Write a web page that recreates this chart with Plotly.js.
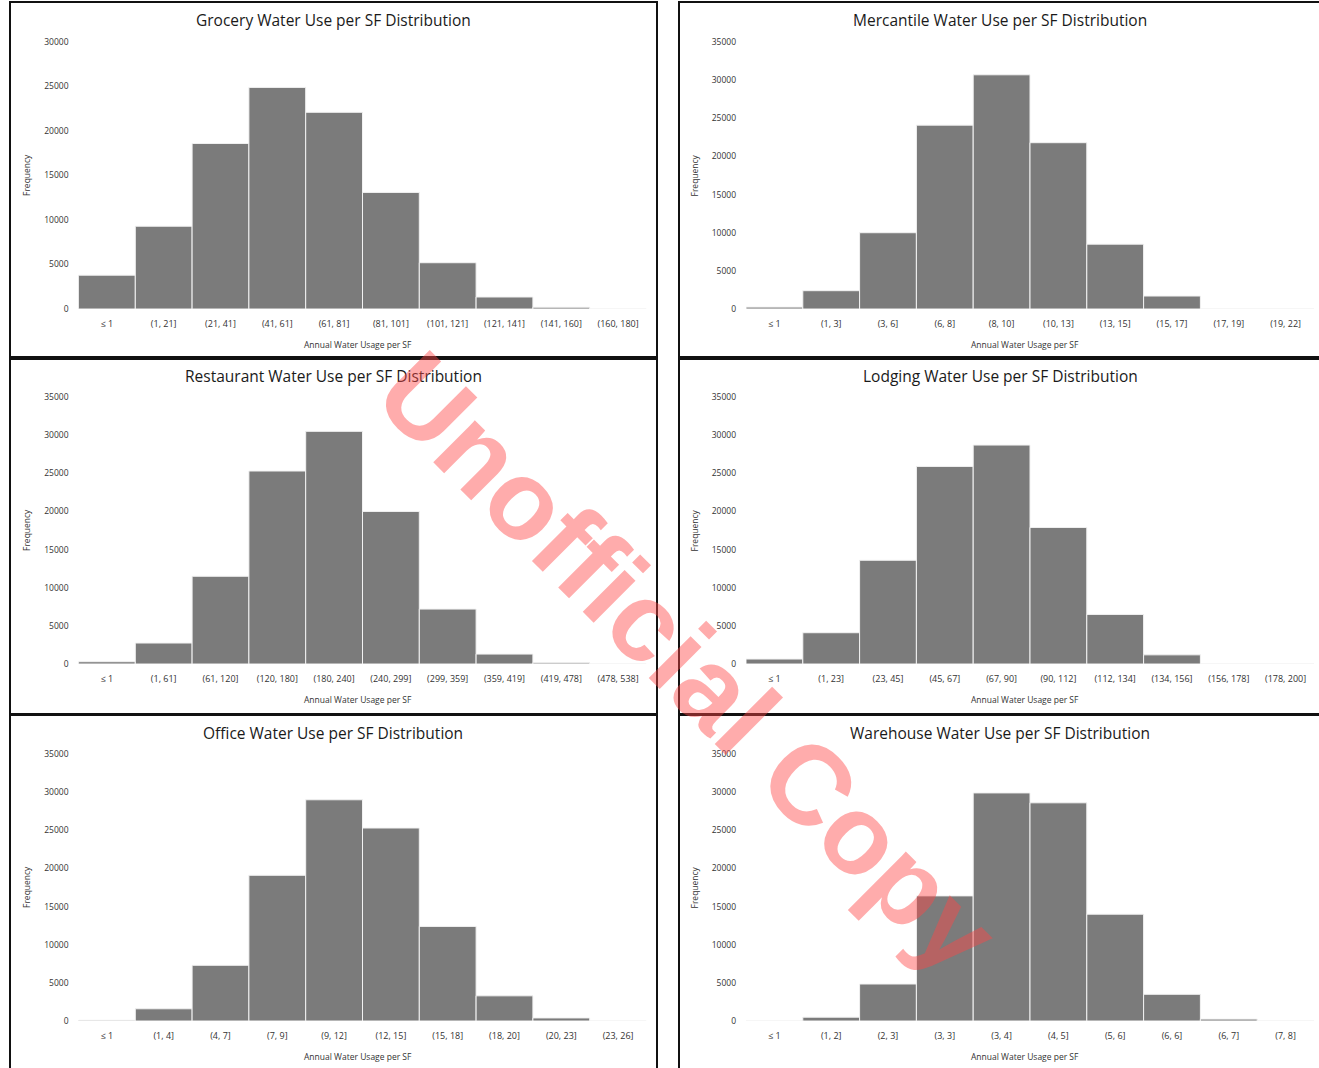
<!DOCTYPE html>
<html>
<head>
<meta charset="utf-8">
<script src="https://cdn.plot.ly/plotly-3.0.1.min.js"></script>
<style>html,body{margin:0;padding:0;background:#fff;}#chart{width:1319px;height:1068px;}</style>
</head>
<body>
<div id="chart"></div>
<script>
// ---- data ----
const groceryBins = ["≤ 1","(1, 21]","(21, 41]","(41, 61]","(61, 81]","(81, 101]","(101, 121]","(121, 141]","(141, 160]","(160, 180]"];
const groceryFreq = [3800, 9300, 18600, 24900, 22100, 13100, 5200, 1350, 200, 0];

const mercantileBins = ["≤ 1","(1, 3]","(3, 6]","(6, 8]","(8, 10]","(10, 13]","(13, 15]","(15, 17]","(17, 19]","(19, 22]"];
const mercantileFreq = [250, 2400, 10000, 24100, 30700, 21800, 8500, 1700, 0, 0];

const restaurantBins = ["≤ 1","(1, 61]","(61, 120]","(120, 180]","(180, 240]","(240, 299]","(299, 359]","(359, 419]","(419, 478]","(478, 538]"];
const restaurantFreq = [300, 2750, 11500, 25300, 30500, 20000, 7200, 1300, 150, 0];

const lodgingBins = ["≤ 1","(1, 23]","(23, 45]","(45, 67]","(67, 90]","(90, 112]","(112, 134]","(134, 156]","(156, 178]","(178, 200]"];
const lodgingFreq = [650, 4100, 13600, 25900, 28700, 17900, 6500, 1200, 0, 0];

const officeBins = ["≤ 1","(1, 4]","(4, 7]","(7, 9]","(9, 12]","(12, 15]","(15, 18]","(18, 20]","(20, 23]","(23, 26]"];
const officeFreq = [100, 1600, 7300, 19100, 29000, 25300, 12400, 3300, 400, 0];

const warehouseBins = ["≤ 1","(1, 2]","(2, 3]","(3, 3]","(3, 4]","(4, 5]","(5, 6]","(6, 6]","(6, 7]","(7, 8]"];
const warehouseFreq = [0, 500, 4850, 16400, 29900, 28600, 14000, 3500, 250, 0];

const panelTitles = ["Grocery Water Use per SF Distribution","Mercantile Water Use per SF Distribution",
  "Restaurant Water Use per SF Distribution","Lodging Water Use per SF Distribution",
  "Office Water Use per SF Distribution","Warehouse Water Use per SF Distribution"];
const yMax = [30000, 35000, 35000, 35000, 35000, 35000];
const xTitle = "Annual Water Usage per SF";
const yTitle = "Frequency";
const watermark = "Unofficial Copy";

// ---- layout geometry ----
const W = 1319, H = 1068;
const bins = [groceryBins, mercantileBins, restaurantBins, lodgingBins, officeBins, warehouseBins];
const freqs = [groceryFreq, mercantileFreq, restaurantFreq, lodgingFreq, officeFreq, warehouseFreq];
const colX = [[78.5, 646.5], [746, 1314]];
const rowY = [[42, 309], [397, 664], [754, 1021]];
const titleY = [20, 376, 733];
const titleX = [333, 1000];
const boxesX = [[10, 657], [679, 1325]];
const boxesY = [[2, 357], [359, 714], [715, 1072]];

const FONT = "'Open Sans', Lato, sans-serif";
const traces = [];
const layout = {
  width: W, height: H, margin: {l:0, r:0, t:0, b:0},
  paper_bgcolor: "#fff", plot_bgcolor: "#fff",
  showlegend: false, bargap: 0,
  font: {family: FONT, color: "#222"},
  annotations: [], shapes: []
};

for (let i = 0; i < 6; i++) {
  const c = i % 2, r = Math.floor(i / 2);
  const sfx = i === 0 ? "" : String(i + 1);
  traces.push({
    type: "bar", x: bins[i], y: freqs[i],
    xaxis: "x" + sfx, yaxis: "y" + sfx,
    marker: {color: "#7b7b7b", line: {color: "#f2f2f2", width: 1}},
    hoverinfo: "x+y"
  });
  const [x0, x1] = colX[c];
  const [yt, yb] = rowY[r];
  layout["xaxis" + sfx] = {
    domain: [x0 / W, x1 / W], anchor: "y" + sfx,
    type: "category", categoryorder: "array", categoryarray: bins[i],
    showgrid: false, zeroline: false, showline: false, ticks: "",
    tickfont: {size: 9, color: "#333"}, ticklabelstandoff: 8, tickangle: 0, fixedrange: true
  };
  layout["yaxis" + sfx] = {
    domain: [1 - yb / H, 1 - yt / H], anchor: "x" + sfx,
    range: [0, yMax[i]], dtick: 5000, tick0: 0, tickformat: "d",
    showgrid: false, zeroline: false, showline: false, ticks: "",
    tickfont: {size: 8.5, color: "#333"}, ticklabelstandoff: 9, fixedrange: true
  };
  // panel title
  layout.annotations.push({
    text: panelTitles[i], xref: "paper", yref: "paper",
    x: titleX[c] / W, y: 1 - titleY[r] / H, xanchor: "center", yanchor: "middle", showarrow: false,
    font: {size: 15.5, color: "#1a1a1a", family: FONT}
  });
  // x title
  layout.annotations.push({
    text: xTitle, xref: "paper", yref: "paper",
    x: ((x0 + x1) / 2 - 5) / W, y: 1 - (yb + 35) / H,
    xanchor: "center", yanchor: "middle", showarrow: false,
    font: {size: 8.5, color: "#333", family: FONT}
  });
  // y title
  layout.annotations.push({
    text: yTitle, xref: "paper", yref: "paper",
    x: (x0 - 52) / W, y: 1 - ((yt + yb) / 2) / H,
    xanchor: "center", yanchor: "middle", showarrow: false, textangle: -90,
    font: {size: 8.5, color: "#333", family: FONT}
  });
  // border box
  layout.shapes.push({
    type: "rect", xref: "paper", yref: "paper",
    x0: boxesX[c][0] / W, x1: boxesX[c][1] / W,
    y0: 1 - boxesY[r][1] / H, y1: 1 - boxesY[r][0] / H,
    line: {color: "#111", width: 2}, fillcolor: "rgba(0,0,0,0)"
  });
}

// watermark
layout.annotations.push({
  text: "<b>" + watermark + "</b>", xref: "paper", yref: "paper",
  x: 688 / W, y: 1 - 662 / H, xanchor: "center", yanchor: "middle",
  showarrow: false, textangle: 45,
  font: {size: 112, color: "rgba(255,70,70,0.45)", family: "'Liberation Sans', Arial, sans-serif"}
});

Plotly.newPlot("chart", traces, layout, {staticPlot: true});
</script>
</body>
</html>
